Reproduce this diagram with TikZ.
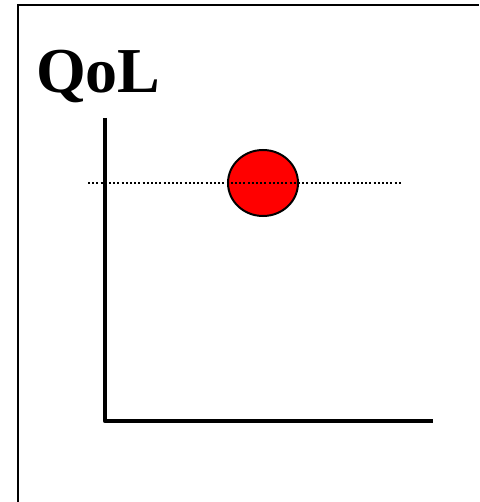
\documentclass[tikz,border=0pt]{standalone}
\usepackage{fontspec}
\setmainfont{Liberation Serif}
\usetikzlibrary{shapes.geometric}

\begin{document}
\begin{tikzpicture}[
  x=1pt, y=-1pt,
  frame/.style={draw, line width=2pt},
  axis/.style={draw, line width=4.5pt, line join=round},
  level/.style={draw, line width=2pt, dash pattern=on 2pt off 2.2pt},
  blob/.style={ellipse, draw, line width=2pt, fill=red, inner sep=0pt,
               minimum width=70pt, minimum height=66pt},
  title/.style={font=\fontsize{64}{64}\selectfont\bfseries, inner sep=0pt, anchor=base west}
]
\useasboundingbox (0,0) rectangle (479,502);
\draw[frame] (18,502) -- (18,5) -- (479,5);
\node[title] (qol) at (36,93) {QoL};
\coordinate (ytop) at (105,118);
\coordinate (origin) at (105,421);
\coordinate (xend) at (433,421);
\draw[axis] (ytop) -- (origin) -- (xend);
\node[blob] (dot) at (263,183) {};
\coordinate (lvlstart) at (88,183);
\coordinate (lvlend) at (402,183);
\draw[level] (lvlstart) -- (lvlend);
\end{tikzpicture}
\end{document}
